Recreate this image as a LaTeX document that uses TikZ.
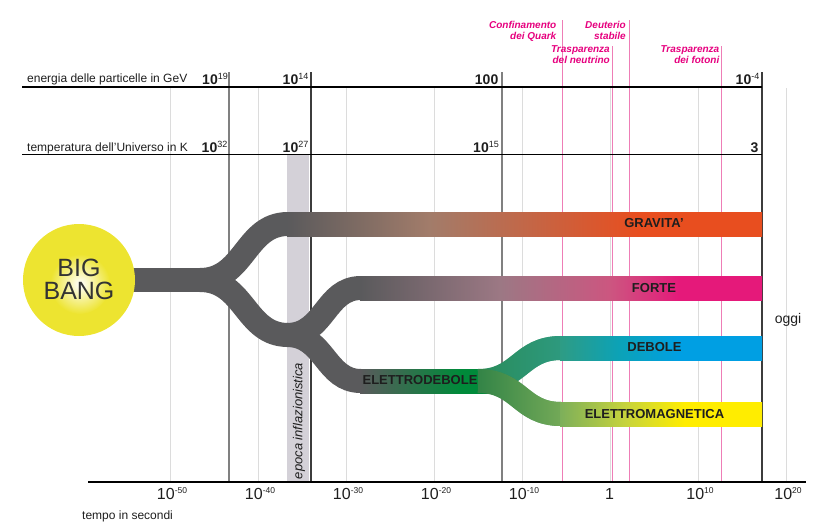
\documentclass[tikz,border=0pt]{standalone}
\usepackage{fontspec}
\setmainfont{Liberation Sans}
\usetikzlibrary{fadings}

\definecolor{strandgrey}{HTML}{5A5A5C}
\definecolor{gridgrey}{HTML}{DCDCDC}
\definecolor{eragrey}{HTML}{808080}
\definecolor{eradark}{HTML}{3C3C3C}
\definecolor{epochgrey}{HTML}{D4D1D8}
\definecolor{eventpink}{HTML}{E6007E}
\definecolor{eventline}{HTML}{EE7DB6}
\definecolor{inkblack}{HTML}{1E1E1E}
\definecolor{bangyellow}{HTML}{EDE430}
\definecolor{gravmid}{HTML}{A27C6A}
\definecolor{gravred}{HTML}{E84E1F}
\definecolor{fortemid}{HTML}{9C7884}
\definecolor{fortemid2}{HTML}{CC5680}
\definecolor{fortemag}{HTML}{E5197A}
\definecolor{ewgreen}{HTML}{008A3A}
\definecolor{weakstart}{HTML}{2A8A55}
\definecolor{weakteal}{HTML}{2E9C84}
\definecolor{weakcyan}{HTML}{0BA2B8}
\definecolor{weakblue}{HTML}{009FE3}
\definecolor{emstart}{HTML}{2A7F45}
\definecolor{emmid}{HTML}{7DAF5A}
\definecolor{emlime}{HTML}{C6D33C}
\definecolor{emyellow}{HTML}{FFED00}

\tikzfading[name=fade in right, left color=transparent!100, right color=transparent!0]

% band gradients, the band itself spans 25bp..75bp
\pgfdeclarehorizontalshading{gravityshade}{100bp}{color(0bp)=(strandgrey); color(25bp)=(strandgrey); color(40bp)=(gravmid); color(62bp)=(gravred); color(100bp)=(gravred)}
\pgfdeclarehorizontalshading{forteshade}{100bp}{color(0bp)=(strandgrey); color(25bp)=(strandgrey); color(42.4bp)=(fortemid); color(56.1bp)=(fortemid2); color(64.8bp)=(fortemag); color(100bp)=(fortemag)}
\pgfdeclarehorizontalshading{ewshade}{100bp}{color(0bp)=(strandgrey); color(25bp)=(strandgrey); color(61.8bp)=(ewgreen); color(100bp)=(ewgreen)}
\pgfdeclarehorizontalshading{weakshade}{100bp}{color(0bp)=(weakteal); color(25bp)=(weakteal); color(39.9bp)=(weakcyan); color(54.7bp)=(weakblue); color(100bp)=(weakblue)}
\pgfdeclarehorizontalshading{emshade}{100bp}{color(0bp)=(emmid); color(25bp)=(emmid); color(41.1bp)=(emlime); color(55.9bp)=(emyellow); color(100bp)=(emyellow)}

\newcommand{\tenpow}[2][9]{10\raisebox{0.6ex}{\fontsize{#1}{#1}\selectfont\mdseries #2}}

\tikzset{
  grid line/.style={draw=gridgrey, line width=0.9pt},
  era line/.style={draw=eragrey, line width=2pt},
  era dark/.style={draw=eradark, line width=1.4pt},
  event line/.style={draw=eventline, line width=0.9pt},
  rule line/.style={draw=black, line width=1.4pt},
  strand/.style={draw=strandgrey, line width=24pt},
  force label/.style={font=\fontsize{13}{15}\selectfont\bfseries, text=inkblack, inner sep=0pt},
  scale label/.style={font=\fontsize{14}{16}\selectfont\bfseries, text=inkblack, anchor=base east, inner sep=0pt},
  row label/.style={font=\fontsize{12}{14}\selectfont, text=inkblack, anchor=base west, inner sep=0pt},
  event label/.style={font=\fontsize{10}{10.5}\selectfont\bfseries\itshape, text=eventpink, align=right, anchor=north east, inner sep=0pt},
  tick label/.style={font=\fontsize{16}{18}\selectfont, text=inkblack, anchor=base, inner sep=0pt},
}

\begin{document}
\begin{tikzpicture}[x=1pt,y=-1pt]
\useasboundingbox (0,0) rectangle (823,523);

% light grid, one line per decade step
\foreach \gx in {170,258,...,786}
  \draw[grid line] (\gx,88) -- (\gx,482);

% inflation epoch
\fill[epochgrey] (287,155) rectangle (309,482);
\node[rotate=90, font=\fontsize{13}{15}\selectfont\itshape, text=inkblack, inner sep=0pt] (epoca) at (299,421) {epoca inflazionistica};

% events
\draw[event line] (562,20) -- (562,482);
\draw[event line] (612,46) -- (612,482);
\draw[event line] (629,20) -- (629,482);
\draw[event line] (721,46) -- (721,482);
\node[event label] (quark) at (556.5,21.5) {Confinamento\\dei Quark};
\node[event label] (deuterio) at (626,21.5) {Deuterio\\stabile};
\node[event label] (neutrino) at (610,45.5) {Trasparenza\\del neutrino};
\node[event label] (fotoni) at (719.5,45.5) {Trasparenza\\dei fotoni};

% eras
\draw[era line] (229,72) -- (229,482);
\draw[era dark] (311,72) -- (311,482);
\draw[era line] (502,72) -- (502,482);
\draw[era dark] (762,72) -- (762,482);

% rows and time axis
\draw[rule line] (22,87) -- (762,87);
\draw[rule line] (22,154.5) -- (762,154.5);
\draw[rule line] (88,482) -- (806,482);

\node[row label] (energia) at (27,82) {energia delle particelle in GeV};
\node[row label] (temperatura) at (27,151) {temperatura dell'Universo in K};
\node[scale label] (e19) at (228,84) {\tenpow{19}};
\node[scale label] (e14) at (308.5,84) {\tenpow{14}};
\node[scale label] (e2) at (498.5,84) {100};
\node[scale label] (e-4) at (759.5,84) {\tenpow{-4}};
\node[scale label] (t32) at (227.5,152) {\tenpow{32}};
\node[scale label] (t27) at (308.5,152) {\tenpow{27}};
\node[scale label] (t15) at (499,152) {\tenpow{15}};
\node[scale label] (t0) at (758.5,152) {3};

\foreach \gx/\ex in {170/-50,258/-40,346/-30,434/-20,522/-10,698/10,786/20}
  \node[tick label] (tick\gx) at (\gx+2,499) {\tenpow[8.5]{\ex}};
\node[tick label] (tick610) at (609.5,499) {1};
\node[row label] (tempo) at (82,519) {tempo in secondi};
\node[row label, font=\fontsize{14}{16}\selectfont, anchor=base] (oggi) at (788,323) {oggi};

% strands
\draw[strand] (120,280) -- (200,280);
\draw[strand] (200,280) .. controls (245,280) and (245,224) .. (288,224);
\draw[strand] (200,280) .. controls (245,280) and (245,335) .. (288,335);
\draw[strand] (287,335) .. controls (325,335) and (325,288) .. (361,288);
\draw[strand] (287,335) .. controls (325,335) and (325,381) .. (361,381);

% bands
\shade[shading=gravityshade] (287,212) rectangle (762,236);
\shade[shading=forteshade] (360,276) rectangle (762,300);
\shade[shading=ewshade] (360,369) rectangle (496,393);

% split of the electroweak strand
\draw[strand, draw=weakstart] (478,381) .. controls (520,381) and (520,348) .. (561,348);
\draw[strand, draw=weakteal, path fading=fade in right] (478,381) .. controls (520,381) and (520,348) .. (561,348);
\draw[strand, draw=emstart] (478,381) .. controls (520,381) and (520,414) .. (561,414);
\draw[strand, draw=emmid, path fading=fade in right] (478,381) .. controls (520,381) and (520,414) .. (561,414);
\shade[shading=weakshade] (560,336) rectangle (762,360);
\shade[shading=emshade] (560,402) rectangle (762,426);

\node[force label] (gravita) at (654,223) {GRAVITA'};
\node[force label] (forte) at (654,288.5) {FORTE};
\node[force label] (debole) at (654.5,347.5) {DEBOLE};
\node[force label] (elettromagnetica) at (654.5,414) {ELETTROMAGNETICA};
\node[force label] (elettrodebole) at (420,380.5) {ELETTRODEBOLE};

% big bang
\fill[bangyellow] (79,280) circle [radius=56];
\shade[inner color=white, outer color=bangyellow] (80,284) circle [radius=30];
\node[font=\fontsize{25}{23}\selectfont, text=black!80, align=center, inner sep=0pt] (bigbang) at (79,279) {BIG\\BANG};
\end{tikzpicture}
\end{document}
